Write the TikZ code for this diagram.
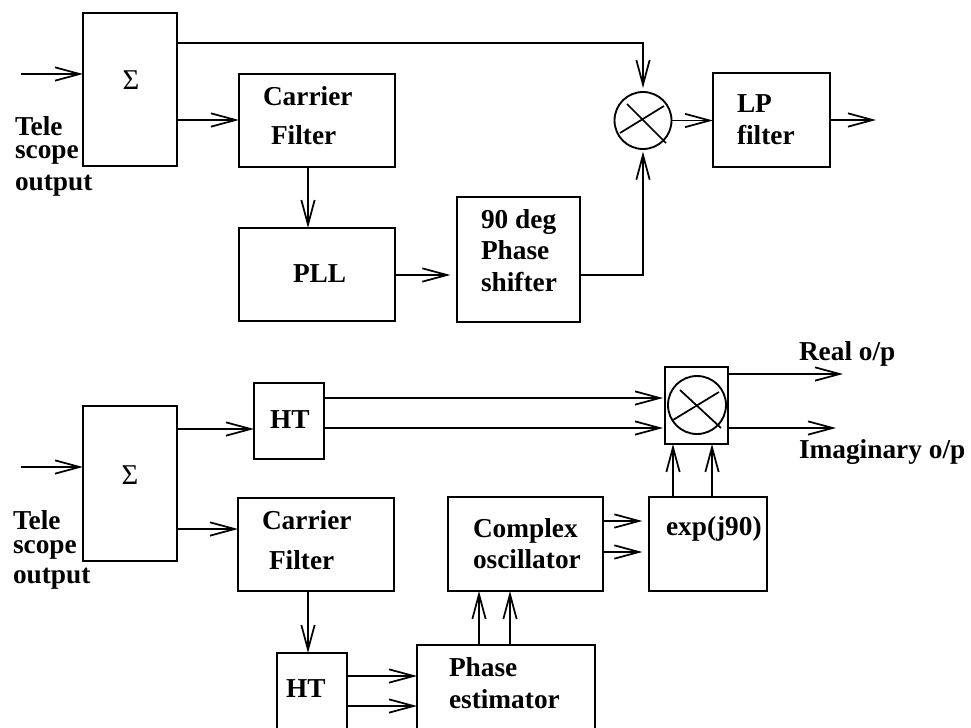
\documentclass[tikz,border=0pt]{standalone}
\usepackage{fontspec}
\setmainfont{Liberation Serif}
\usetikzlibrary{arrows.meta,calc}
\tikzset{
  x=0.75pt,y=-0.75pt,
  box/.style={draw=black,line width=1.3pt,inner sep=0pt,outer sep=0pt},
  ring/.style={draw=black,line width=1.4pt,circle,inner sep=0pt,outer sep=0pt},
  wire/.style={draw=black,line width=1.3pt},
  arr/.style={wire,-{Straight Barb[length=18.5pt,width=10pt,line width=1.3pt]}},
  lbl/.style={font=\fontsize{20.5pt}{20pt}\selectfont\bfseries,inner sep=0pt,outer sep=0pt,align=left,anchor=north west,yshift=-1.5pt},
  sig/.style={font=\fontsize{21.5pt}{22pt}\selectfont,inner sep=0pt,outer sep=0pt}
}
\newcommand{\bx}[5]{%
  \pgfmathsetmacro{\bw}{(#4-#2)*0.75}\pgfmathsetmacro{\bh}{(#5-#3)*0.75}%
  \pgfmathsetmacro{\cx}{(#4+#2)/2}\pgfmathsetmacro{\cy}{(#5+#3)/2}%
  \node[box,minimum width=\bw pt,minimum height=\bh pt] (#1) at (\cx,\cy) {};}
\begin{document}
\begin{tikzpicture}
\useasboundingbox (0,0) rectangle (971,728);
\clip (0,0) rectangle (971,728);
% top chain
\bx{sigA}{83}{13}{177}{166}
\bx{carA}{239}{74}{395}{167}
\bx{pll}{239}{228}{395}{321}
\bx{shift}{457}{197}{580}{322}
\bx{lp}{713}{73}{830}{167}
\node[ring,minimum size=42.75pt] (mixA) at (643,120.5) {};
\coordinate (inA) at (21,74);
\coordinate (outA) at (876,120);
\coordinate (inB) at (21,467);
\node[sig] (sA) at (131,80) {Σ};
\node[lbl] (tA) at (15,115) {Tele\\[-2.75pt]scope\\[4pt]output};
\node[lbl] (lA) at (263,85) {Carrier\\[9.25pt]\hspace{6pt}Filter};
\node[lbl] (lP) at (293,263) {PLL};
\node[lbl] (lS) at (481,208) {90 deg\\[3.25pt]Phase\\[4pt]shifter};
\node[lbl] (lL) at (737,93) {LP\\[4pt]filter};
\draw[arr] (inA) -- (sigA.west |- inA);
\draw[arr] (sigA.east |- 0,120) -- (carA.west |- 0,120);
\draw[arr,shorten >=3pt] (sigA.east |- 0,43) -| (mixA.north);
\draw[arr] (carA.south -| 308,0) -- (pll.north -| 308,0);
\draw[arr,shorten >=5pt] (pll.east |- 0,275) -- (shift.west |- 0,275);
\draw[arr,shorten >=2pt] (shift.east |- 0,275) -| (mixA.south);
\draw[arr] (mixA.east) -- (lp.west |- mixA.east);
\draw[arr] (lp.east |- outA) -- (outA);
\draw[wire] ([shift={(-16,-16.5)}]mixA.center) -- ([shift={(23,22.5)}]mixA.center);
\draw[wire] ([shift={(-23,12.5)}]mixA.center) -- ([shift={(21,-14.5)}]mixA.center);
% bottom chain
\bx{sigB}{83}{406}{177}{561}
\bx{htA}{254}{383}{324}{459}
\bx{mixbox}{665}{367}{728}{444}
\bx{carB}{238}{498}{394}{591}
\bx{htB}{277}{653}{347}{745}
\bx{phase}{417}{645}{595}{745}
\bx{osc}{448}{497}{603}{591}
\bx{expb}{649}{497}{767}{591}
\node[ring,minimum size=43.5pt] (mixB) at (697,405) {};
\coordinate (outR) at (843,374);
\coordinate (outI) at (836,428);
\node[sig] (sB) at (130,475) {Σ};
\node[lbl] (tB) at (13,509) {Tele\\[-2pt]scope\\[2.5pt]output};
\node[lbl] (lB) at (262,509) {Carrier\\[10pt]\hspace{5.25pt}Filter};
\node[lbl] (lH) at (270,409) {HT};
\node[lbl] (lHb) at (286,678) {HT};
\node[lbl] (lE) at (449,656) {Phase\\[4pt]estimator};
\node[lbl] (lO) at (473,517) {Complex\\[3.25pt]oscillator};
\node[lbl] (lX) at (666,515) {exp(j90)};
\node[lbl] (lR) at (799,340) {Real o/p};
\node[lbl] (lI) at (799,438) {Imaginary o/p};
\draw[arr] (inB) -- (sigB.west |- inB);
\draw[arr] (sigB.east |- 0,429) -- (htA.west |- 0,429);
\draw[arr] (sigB.east |- 0,529) -- (carB.west |- 0,529);
\draw[arr,shorten >=1.5pt] (htA.east |- 0,398) -- (mixbox.west |- 0,398);
\draw[arr,shorten >=1.5pt] (htA.east |- 0,428) -- (mixbox.west |- 0,428);
\draw[arr] (mixbox.east |- outR) -- (outR);
\draw[arr] (mixbox.east |- outI) -- (outI);
\draw[arr] (carB.south -| 308,0) -- (htB.north -| 308,0);
\draw[arr] (htB.east |- 0,676) -- (phase.west |- 0,676);
\draw[arr] (htB.east |- 0,706) -- (phase.west |- 0,706);
\draw[arr] (phase.north -| 479,0) -- (osc.south -| 479,0);
\draw[arr] (phase.north -| 510,0) -- (osc.south -| 510,0);
\draw[arr,shorten >=5pt] (osc.east |- 0,521) -- (expb.west |- 0,521);
\draw[arr,shorten >=5pt] (osc.east |- 0,552) -- (expb.west |- 0,552);
\draw[arr] (expb.north -| 673,0) -- (mixbox.south -| 673,0);
\draw[arr] (expb.north -| 712,0) -- (mixbox.south -| 712,0);
\draw[wire] ([shift={(-17,-15)}]mixB.center) -- ([shift={(24,23)}]mixB.center);
\draw[wire] ([shift={(-24,15)}]mixB.center) -- ([shift={(22,-13)}]mixB.center);
\end{tikzpicture}
\end{document}
